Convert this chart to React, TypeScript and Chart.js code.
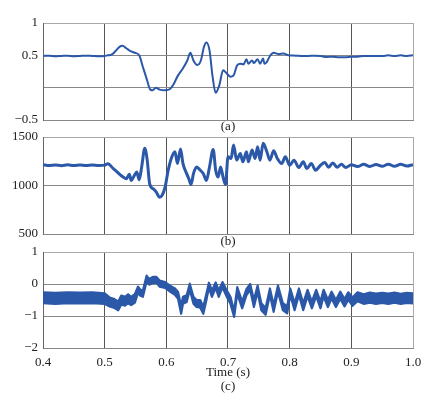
import React, { useEffect, useRef } from "react";
import { Chart, registerables } from "chart.js";

Chart.register(...registerables);

// Panel (a)
const timeA = [0.40, 0.41, 0.42, 0.43, 0.44, 0.45, 0.46, 0.47, 0.48, 0.49, 0.50, 0.505, 0.511, 0.518, 0.524, 0.529, 0.535, 0.541, 0.549, 0.556, 0.562, 0.568, 0.574, 0.578, 0.583, 0.589, 0.598, 0.606, 0.611, 0.619, 0.627, 0.634, 0.639, 0.644, 0.650, 0.656, 0.661, 0.665, 0.670, 0.675, 0.680, 0.686, 0.692, 0.698, 0.704, 0.709, 0.715, 0.720, 0.725, 0.730, 0.733, 0.739, 0.742, 0.748, 0.752, 0.757, 0.759, 0.763, 0.768, 0.774, 0.782, 0.790, 0.798, 0.81, 0.82, 0.83, 0.84, 0.85, 0.86, 0.87, 0.88, 0.89, 0.90, 0.91, 0.92, 0.93, 0.94, 0.95, 0.96, 0.97, 0.98, 0.99, 1.0];
const valA = [0.49, 0.495, 0.485, 0.49, 0.495, 0.485, 0.49, 0.495, 0.49, 0.485, 0.49, 0.5, 0.51, 0.57, 0.63, 0.65, 0.61, 0.57, 0.54, 0.50, 0.32, 0.14, -0.03, -0.04, 0.0, -0.03, -0.04, -0.02, 0.04, 0.19, 0.30, 0.42, 0.54, 0.42, 0.35, 0.42, 0.63, 0.70, 0.58, 0.17, -0.08, 0.04, 0.27, 0.22, 0.17, 0.19, 0.35, 0.37, 0.36, 0.44, 0.37, 0.42, 0.38, 0.44, 0.37, 0.45, 0.37, 0.40, 0.49, 0.54, 0.52, 0.53, 0.50, 0.495, 0.49, 0.49, 0.495, 0.49, 0.475, 0.48, 0.47, 0.47, 0.48, 0.48, 0.49, 0.49, 0.49, 0.49, 0.5, 0.49, 0.5, 0.49, 0.5];

// Panel (b)
const timeB = [0.40, 0.41, 0.42, 0.43, 0.44, 0.45, 0.46, 0.47, 0.48, 0.49, 0.50, 0.505, 0.514, 0.522, 0.530, 0.535, 0.540, 0.543, 0.547, 0.552, 0.556, 0.560, 0.565, 0.569, 0.573, 0.579, 0.584, 0.589, 0.593, 0.598, 0.603, 0.609, 0.614, 0.618, 0.623, 0.627, 0.633, 0.637, 0.640, 0.644, 0.649, 0.655, 0.660, 0.665, 0.670, 0.676, 0.680, 0.684, 0.688, 0.692, 0.696, 0.700, 0.705, 0.709, 0.714, 0.720, 0.724, 0.730, 0.733, 0.739, 0.744, 0.748, 0.752, 0.757, 0.763, 0.768, 0.774, 0.780, 0.787, 0.793, 0.800, 0.807, 0.815, 0.822, 0.828, 0.835, 0.842, 0.850, 0.857, 0.863, 0.870, 0.877, 0.884, 0.891, 0.90, 0.91, 0.92, 0.93, 0.94, 0.95, 0.96, 0.97, 0.98, 0.99, 1.0];
const valB = [1215, 1205, 1212, 1204, 1213, 1206, 1212, 1205, 1211, 1206, 1210, 1225, 1174, 1129, 1087, 1070, 1115, 1052, 1090, 1139, 1060, 1191, 1383, 1261, 1017, 965, 930, 878, 896, 983, 1157, 1296, 1348, 1226, 1376, 1226, 1122, 1060, 1010, 1122, 1191, 1157, 1122, 1052, 1191, 1372, 1157, 1087, 1191, 1087, 1010, 1296, 1278, 1418, 1261, 1330, 1244, 1348, 1244, 1365, 1278, 1400, 1261, 1435, 1348, 1261, 1358, 1278, 1226, 1296, 1209, 1261, 1185, 1244, 1174, 1226, 1157, 1209, 1237, 1188, 1233, 1188, 1219, 1185, 1215, 1195, 1218, 1196, 1216, 1198, 1220, 1198, 1218, 1200, 1214];

// Panel (c): upper and lower edges of the noisy trace
const timeC = [0.40, 0.42, 0.44, 0.46, 0.48, 0.50, 0.508, 0.516, 0.522, 0.527, 0.533, 0.538, 0.543, 0.549, 0.554, 0.558, 0.562, 0.568, 0.572, 0.578, 0.584, 0.589, 0.598, 0.606, 0.614, 0.619, 0.624, 0.627, 0.633, 0.638, 0.644, 0.649, 0.655, 0.660, 0.665, 0.669, 0.674, 0.680, 0.685, 0.691, 0.698, 0.704, 0.710, 0.715, 0.723, 0.730, 0.736, 0.742, 0.748, 0.754, 0.761, 0.768, 0.774, 0.781, 0.789, 0.796, 0.801, 0.808, 0.815, 0.822, 0.829, 0.836, 0.843, 0.850, 0.855, 0.862, 0.868, 0.875, 0.882, 0.889, 0.895, 0.902, 0.91, 0.92, 0.93, 0.94, 0.95, 0.96, 0.97, 0.98, 0.99, 1.0];
const highC = [-0.26, -0.28, -0.26, -0.27, -0.26, -0.29, -0.42, -0.47, -0.55, -0.36, -0.40, -0.32, -0.40, -0.32, -0.08, -0.18, -0.20, 0.26, 0.16, 0.22, 0.22, 0.11, 0.06, -0.05, -0.14, -0.25, -0.68, -0.40, -0.35, 0.01, -0.40, -0.50, -0.50, -0.72, -0.30, 0.04, -0.20, 0.05, -0.20, 0.06, -0.20, -0.40, -0.85, -0.10, -0.55, -0.15, 0.0, -0.50, -0.05, -0.60, -0.75, -0.14, -0.66, -0.05, -0.60, -0.70, -0.14, -0.60, -0.14, -0.60, -0.18, -0.55, -0.18, -0.55, -0.18, -0.50, -0.24, -0.50, -0.24, -0.47, -0.26, -0.42, -0.26, -0.32, -0.27, -0.30, -0.28, -0.30, -0.27, -0.31, -0.28, -0.29];
const lowC = [-0.60, -0.62, -0.60, -0.61, -0.60, -0.62, -0.70, -0.75, -0.82, -0.64, -0.68, -0.60, -0.66, -0.58, -0.28, -0.37, -0.40, 0.08, -0.02, 0.03, 0.04, -0.08, -0.12, -0.24, -0.34, -0.46, -0.93, -0.62, -0.56, -0.18, -0.62, -0.72, -0.74, -0.93, -0.50, -0.12, -0.40, -0.12, -0.40, -0.10, -0.40, -0.62, -1.03, -0.30, -0.76, -0.35, -0.18, -0.72, -0.24, -0.82, -0.96, -0.34, -0.87, -0.24, -0.82, -0.92, -0.34, -0.82, -0.34, -0.82, -0.38, -0.76, -0.38, -0.76, -0.39, -0.72, -0.45, -0.72, -0.46, -0.70, -0.49, -0.68, -0.54, -0.62, -0.58, -0.62, -0.59, -0.62, -0.58, -0.62, -0.59, -0.61];

const xTickLabels = ["0.4", "0.5", "0.6", "0.7", "0.8", "0.9", "1.0"];

const FONT = "'Liberation Serif', 'Times New Roman', serif";
const LINE = "#2b58a8";

function fmt(v: number) {
  const s = String(Math.round(v * 100) / 100);
  return s.startsWith("-") ? "\u2212" + s.slice(1) : s;
}

type PanelCfg = {
  times: number[];
  series: number[][];
  band: boolean;
  yMin: number;
  yMax: number;
  yStep: number;
  hideZeroLabel?: boolean;
  padTop: number;
  padBottom: number;
  xHeight: number;
  showXTicks: boolean;
  title: string | string[];
  titlePadBottom: number;
  lineWidth: number;
  smooth: boolean;
};

function Panel({ cfg }: { cfg: PanelCfg }) {
  const ref = useRef<HTMLCanvasElement | null>(null);
  useEffect(() => {
    if (!ref.current) return;
    const datasets = cfg.series.map((vals, si) => ({
      data: cfg.times.map((t, i) => ({ x: t, y: vals[i] })),
      borderColor: LINE,
      backgroundColor: LINE,
      borderWidth: cfg.lineWidth,
      borderJoinStyle: "round",
      borderCapStyle: "butt",
      pointRadius: 0,
      tension: cfg.smooth ? 0.4 : 0,
      cubicInterpolationMode: cfg.smooth ? "monotone" : "default",
      fill: cfg.band && si === 0 ? "+1" : false,
    }));
    const chart = new Chart(ref.current, {
      type: "line",
      data: { datasets },
      options: {
        animation: false,
        responsive: false,
        maintainAspectRatio: false,
        layout: { padding: { top: cfg.padTop, right: 19, bottom: cfg.padBottom, left: 0 } },
        plugins: { legend: { display: false }, tooltip: { enabled: false }, filler: { propagate: false } },
        scales: {
          x: {
            type: "linear",
            min: 0.4,
            max: 1.0,
            afterBuildTicks: (s: any) => {
              s.ticks = xTickLabels.map((l) => ({ value: parseFloat(l) }));
            },
            afterFit: (s: any) => {
              s.height = cfg.xHeight;
            },
            ticks: {
              display: cfg.showXTicks,
              padding: 7,
              maxRotation: 0,
              color: "#222",
              font: { family: FONT, size: 13 },
              callback: (v: any) => {
                const idx = xTickLabels.findIndex((l) => Math.abs(parseFloat(l) - v) < 1e-6);
                return idx >= 0 ? xTickLabels[idx] : "";
              },
            },
            grid: {
              drawTicks: false,
              color: (c: any) => (c.tick && Math.abs(c.tick.value - 1.0) < 1e-6 ? "#aaa" : "#555"),
              lineWidth: 1,
            },
            border: { color: "#888", width: 1 },
            title: {
              display: true,
              text: cfg.title,
              color: "#222",
              font: { family: FONT, size: 13, lineHeight: 1.1 },
              padding: { top: 0, bottom: cfg.titlePadBottom },
            },
          },
          y: {
            min: cfg.yMin,
            max: cfg.yMax,
            afterFit: (s: any) => {
              s.width = 43;
            },
            ticks: {
              stepSize: cfg.yStep,
              padding: 5,
              color: "#222",
              font: { family: FONT, size: 13 },
              callback: (v: any) => (cfg.hideZeroLabel && Math.abs(v) < 1e-9 ? "" : fmt(v)),
            },
            grid: {
              drawTicks: false,
              color: (c: any) => (c.tick && Math.abs(c.tick.value - cfg.yMax) < 1e-9 ? "#aaa" : "#888"),
              lineWidth: 1,
            },
            border: { color: "#666", width: 1 },
          },
        },
      } as any,
    });
    return () => chart.destroy();
  }, [cfg]);
  return (
    <canvas
      ref={ref}
      width={432}
      height={398}
      style={{ position: "absolute", left: 0, top: 0, width: 432, height: 398 }}
    />
  );
}

const panelA: PanelCfg = {
  times: timeA, series: [valA], band: false, yMin: -0.5, yMax: 1, yStep: 0.5, hideZeroLabel: true,
  padTop: 23, padBottom: 261, xHeight: 17, showXTicks: false, title: "(a)", titlePadBottom: 3,
  lineWidth: 2, smooth: true,
};
const panelB: PanelCfg = {
  times: timeB, series: [valB], band: false, yMin: 500, yMax: 1500, yStep: 500,
  padTop: 137, padBottom: 147, xHeight: 17, showXTicks: false, title: "(b)", titlePadBottom: 2,
  lineWidth: 3, smooth: true,
};
const panelC: PanelCfg = {
  times: timeC, series: [highC, lowC], band: true, yMin: -2, yMax: 1, yStep: 1,
  padTop: 252, padBottom: 2, xHeight: 48, showXTicks: true, title: ["Time (s)", "(c)"], titlePadBottom: 2,
  lineWidth: 2.2, smooth: false,
};

export default function App() {
  return (
    <div style={{ position: "fixed", left: 0, top: 0, width: 432, height: 398, background: "#fff" }}>
      <Panel cfg={panelA} />
      <Panel cfg={panelB} />
      <Panel cfg={panelC} />
    </div>
  );
}
